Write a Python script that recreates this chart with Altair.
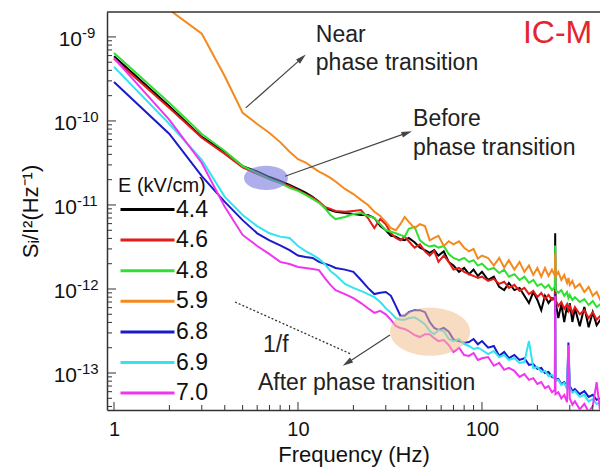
import altair as alt
import pandas as pd

# ---------------- data ----------------
freq = [1, 2, 3, 4, 5, 6, 7, 8, 9, 10, 11, 12, 13, 14, 15, 16,
        18, 20, 22, 24, 26, 28, 30, 32, 34, 36, 38, 40,
        43, 46, 49, 52, 55, 58,
        62, 66, 70, 75, 80, 85, 90, 95, 100,
        108, 116, 124, 132, 140,
        150, 160, 170, 180, 190, 200, 210, 220, 230, 240,
        249, 250, 251, 260, 270, 280, 290, 295, 300, 310, 320,
        340, 360, 380, 400, 420, 440, 460, 480]

e44 = [5.9e-10, 1.5e-10, 6.45e-11, 4.3e-11, 2.9e-11, 2.5e-11, 2.15e-11, 1.93e-11, 1.73e-11, 1.55e-11, 1.4e-11, 1.25e-11, 1.09e-11, 9.2e-12, 8.7e-12, 8.3e-12,
       8.0e-12, 7.8e-12, 7.6e-12, 7.6e-12, 7.0e-12, 5.6e-12, 5.0e-12, 4.3e-12, 4.2e-12, 3.9e-12, 3.8e-12, 4.05e-12,
       3.6e-12, 3.1e-12, 2.9e-12, 2.7e-12, 2.9e-12, 2.5e-12,
       2.8e-12, 2.1e-12, 1.9e-12, 1.6e-12, 1.78e-12, 1.5e-12, 1.7e-12, 1.43e-12, 1.6e-12,
       1.28e-12, 1.4e-12, 1.06e-12, 9.7e-13, 1.18e-12,
       9.7e-13, 1.03e-12, 8.3e-13, 6.8e-13, 9.2e-13, 7.4e-13, 5.6e-13, 8.3e-13, 6.8e-13, 7.8e-13,
       7.4e-13, 4.6e-12, 7.0e-13, 4.5e-13, 6.6e-13, 4.05e-13, 6.3e-13, 5.3e-13, 6.8e-13, 4.05e-13, 5.9e-13,
       3.6e-13, 6.1e-13, 3.5e-13, 5.3e-13, 3.7e-13, 4.3e-13, 3.25e-13, 4.05e-13]

e46 = [5.5e-10, 1.43e-10, 6.3e-11, 4.05e-11, 2.8e-11, 2.34e-11, 2.04e-11, 1.83e-11, 1.68e-11, 1.5e-11, 1.35e-11, 1.22e-11, 1.09e-11, 9.5e-12, 9.0e-12, 8.5e-12,
       8.3e-12, 8.5e-12, 8.7e-12, 7.0e-12, 5.3e-12, 6.8e-12, 5.9e-12, 4.6e-12, 4.05e-12, 3.8e-12, 4.2e-12, 3.7e-12,
       3.1e-12, 3.4e-12, 2.8e-12, 2.5e-12, 2.83e-12, 2.1e-12,
       2.5e-12, 2.1e-12, 1.7e-12, 1.78e-12, 1.6e-12, 1.5e-12, 1.43e-12, 1.35e-12, 1.4e-12,
       1.25e-12, 1.32e-12, 1.15e-12, 1.22e-12, 1.03e-12,
       1.12e-12, 9.5e-13, 1.03e-12, 8.7e-13, 9.5e-13, 8.0e-13, 9.0e-13, 7.6e-13, 8.5e-13, 7.4e-13,
       8.0e-13, 9.7e-13, 7.4e-13, 6.3e-13, 7.0e-13, 5.8e-13, 6.6e-13, 5.6e-13, 6.3e-13, 5.2e-13, 6.1e-13,
       5.0e-13, 5.6e-13, 4.5e-13, 5.3e-13, 4.3e-13, 4.8e-13, 3.8e-13, 4.4e-13]

e48 = [6.45e-10, 1.64e-10, 7.0e-11, 4.4e-11, 2.9e-11, 2.4e-11, 2.04e-11, 1.83e-11, 1.6e-11, 1.47e-11, 1.32e-11, 1.18e-11, 1.06e-11, 9.2e-12, 7.6e-12, 6.8e-12,
       7.2e-12, 7.8e-12, 8.0e-12, 7.4e-12, 7.0e-12, 5.9e-12, 5.0e-12, 4.8e-12, 4.6e-12, 4.4e-12, 4.2e-12, 5.2e-12,
       5.5e-12, 3.8e-12, 3.4e-12, 3.2e-12, 3.3e-12, 3.1e-12,
       3.25e-12, 2.6e-12, 2.34e-12, 2.2e-12, 2.34e-12, 2.1e-12, 2.2e-12, 1.9e-12, 2.0e-12,
       1.7e-12, 1.78e-12, 1.55e-12, 1.7e-12, 1.4e-12,
       1.5e-12, 1.28e-12, 1.4e-12, 1.18e-12, 1.28e-12, 1.09e-12, 1.15e-12, 1.03e-12, 1.12e-12, 9.7e-13,
       1.06e-12, 3.3e-12, 9.7e-13, 9.0e-13, 9.7e-13, 8.3e-13, 9.2e-13, 7.8e-13, 8.5e-13, 7.4e-13, 8.0e-13,
       7.0e-13, 7.6e-13, 6.45e-13, 7.2e-13, 6.1e-13, 6.6e-13, 5.6e-13, 6.1e-13]

e59 = [6.3e-9, 2.1e-9, 1.09e-9, 3.4e-10, 1.25e-10, 9.2e-11, 7.2e-11, 5.6e-11, 4.3e-11, 3.5e-11, 3.2e-11, 2.8e-11, 2.5e-11, 2.3e-11, 2.1e-11, 1.9e-11,
       1.55e-11, 1.35e-11, 1.15e-11, 1.0e-11, 8.3e-12, 7.4e-12, 6.3e-12, 5.3e-12, 5.0e-12, 5.9e-12, 7.2e-12, 6.3e-12,
       5.3e-12, 5.9e-12, 5.6e-12, 3.8e-12, 4.05e-12, 4.3e-12,
       3.25e-12, 3.7e-12, 3.4e-12, 3.7e-12, 3.1e-12, 2.8e-12, 3.0e-12, 2.3e-12, 2.5e-12,
       2.34e-12, 1.9e-12, 2.34e-12, 1.8e-12, 2.2e-12,
       1.7e-12, 2.1e-12, 1.6e-12, 1.9e-12, 1.47e-12, 1.78e-12, 1.4e-12, 1.78e-12, 1.43e-12, 1.7e-12,
       1.43e-12, 2.6e-12, 1.4e-12, 1.6e-12, 1.28e-12, 1.47e-12, 1.18e-12, 1.35e-12, 1.12e-12, 1.25e-12, 1.03e-12,
       1.15e-12, 9.2e-13, 1.06e-12, 8.3e-13, 9.2e-13, 7.4e-13, 8.3e-13, 6.8e-13]

e68 = [2.9e-10, 7.0e-11, 2.2e-11, 1.09e-11, 6.6e-12, 4.6e-12, 3.8e-12, 3.3e-12, 2.9e-12, 2.5e-12, 2.4e-12, 2.34e-12, 2.1e-12, 2.0e-12, 1.9e-12, 1.78e-12,
       1.7e-12, 1.6e-12, 1.28e-12, 1.03e-12, 8.7e-13, 9.0e-13, 9.2e-13, 8.3e-13, 6.3e-13, 4.8e-13, 4.8e-13, 5.3e-13,
       5.6e-13, 5.6e-13, 5.3e-13, 4.05e-13, 3.44e-13, 3.25e-13,
       3.44e-13, 3.1e-13, 2.5e-13, 2.4e-13, 2.3e-13, 2.34e-13, 2.54e-13, 2.2e-13, 2.4e-13,
       2.0e-13, 2.1e-13, 1.6e-13, 1.78e-13, 1.5e-13,
       1.64e-13, 1.43e-13, 1.5e-13, 1.25e-13, 1.28e-13, 1.12e-13, 1.15e-13, 1.0e-13, 1.03e-13, 9.0e-14,
       8.7e-14, 8.7e-13, 8.3e-14, 8.5e-14, 7.4e-14, 7.8e-14, 6.8e-14, 2.3e-13, 7.0e-14, 6.1e-14, 6.45e-14,
       5.6e-14, 6.1e-14, 5.2e-14, 5.5e-14, 4.8e-14, 5.0e-14, 4.3e-14, 4.5e-14]

e69 = [4.4e-10, 9.2e-11, 3.44e-11, 1.25e-11, 7.6e-12, 5.6e-12, 4.6e-12, 4.2e-12, 4.05e-12, 3.25e-12, 2.83e-12, 2.54e-12, 2.28e-12, 1.98e-12, 1.64e-12, 1.47e-12,
       1.15e-12, 1.03e-12, 9.5e-13, 8.7e-13, 8.0e-13, 7.0e-13, 5.9e-13, 5.2e-13, 4.5e-13, 4.3e-13, 4.3e-13, 4.5e-13,
       4.6e-13, 4.2e-13, 3.8e-13, 3.16e-13, 2.9e-13, 3.25e-13,
       3.16e-13, 2.54e-13, 2.4e-13, 2.54e-13, 2.2e-13, 2.1e-13, 1.93e-13, 2.0e-13, 1.88e-13,
       1.68e-13, 1.83e-13, 1.55e-13, 1.64e-13, 1.43e-13,
       1.5e-13, 1.32e-13, 1.35e-13, 2.4e-13, 1.15e-13, 1.18e-13, 1.03e-13, 1.06e-13, 9.2e-14, 9.5e-14,
       8.5e-14, 3.25e-13, 8.0e-14, 8.3e-14, 7.2e-14, 7.6e-14, 6.45e-14, 2.15e-13, 6.6e-14, 5.8e-14, 6.1e-14,
       5.2e-14, 5.5e-14, 4.6e-14, 4.9e-14, 4.3e-14, 4.4e-14, 3.7e-14, 3.9e-14]

e70 = [5.6e-10, 1.03e-10, 3.16e-11, 9.5e-12, 4.4e-12, 3.25e-12, 2.6e-12, 2.1e-12, 1.98e-12, 1.83e-12, 1.78e-12, 1.73e-12, 1.68e-12, 1.35e-12, 1.12e-12, 9.7e-13,
       8.7e-13, 7.8e-13, 6.8e-13, 5.9e-13, 5.2e-13, 5.5e-13, 5.0e-13, 4.3e-13, 3.63e-13, 3.44e-13, 3.34e-13, 3.16e-13,
       2.83e-13, 2.68e-13, 2.9e-13, 2.9e-13, 2.6e-13, 2.4e-13,
       2.47e-13, 2.15e-13, 1.78e-13, 2.0e-13, 1.64e-13, 1.6e-13, 1.73e-13, 1.43e-13, 1.5e-13,
       1.55e-13, 1.22e-13, 1.32e-13, 1.09e-13, 1.15e-13,
       1.06e-13, 9.0e-14, 9.7e-14, 8.3e-14, 8.7e-14, 7.4e-14, 7.8e-14, 6.6e-14, 7.0e-14, 5.9e-14,
       6.3e-14, 8.3e-13, 5.6e-14, 5.9e-14, 5.0e-14, 5.5e-14, 4.5e-14, 2.15e-13, 5.0e-14, 4.2e-14, 4.6e-14,
       3.7e-14, 4.3e-14, 3.44e-14, 4.05e-14, 7.8e-14, 3.34e-14, 3.63e-14, 3.08e-14]

series_labels = ["4.4", "4.6", "4.8", "5.9", "6.8", "6.9", "7.0"]
series_values = [e44, e46, e48, e59, e68, e69, e70]
series_colors = ["#000000", "#e41b1b", "#30e030", "#f48a1f", "#1a1ac8", "#30e4f0", "#f034f0"]

y_tick_values = [1e-13, 1e-12, 1e-11, 1e-10, 1e-9]
y_tick_exponents = ["-13", "-12", "-11", "-10", "-9"]
x_tick_values = [1, 10, 100]

# annotations (data coordinates)
ann_text = ["Near", "phase transition", "Before", "phase transition", "1/f", "After phase transition"]
ann_f = [12.5, 12.5, 42.2, 42.2, 6.45, 6.06]
ann_s = [1.06e-9, 4.9e-10, 1.06e-10, 4.77e-11, 2.15e-13, 7.6e-14]
legend_title_f = [1.051]
legend_title_s = [1.68e-11]

arrow_id = ["a1", "a1", "a2", "a2", "a3", "a3"]
arrow_f = [5.2, 10.5, 8.5, 39.1, 31.6, 18.5]
arrow_s = [1.43e-10, 5.6e-10, 2.2e-11, 7.2e-11, 2.83e-13, 1.32e-13]
head_f = [10.5, 39.1, 18.5]
head_s = [5.6e-10, 7.2e-11, 1.32e-13]
head_angle = [47.5, 70.6, 237]

guide_f = [4.55, 19.2]
guide_s = [7.0e-13, 1.7e-13]

# ---------------- build ----------------
rows = []
for lab, vals in zip(series_labels, series_values):
    for f, v in zip(freq, vals):
        rows.append({"f": f, "S": v, "E": lab})
df = pd.DataFrame(rows)

W, H = 493, 398
FONT = "Liberation Sans"
FRAME = "#333333"
xscale = alt.Scale(type="log", domain=[0.916, 438], nice=False)
yscale = alt.Scale(type="log", domain=[3.63e-14, 1.98e-9], nice=False)

x_axis = alt.Axis(values=x_tick_values, format="d", labelFontSize=20, labelFont=FONT,
                  labelColor="#111", ticks=False, domain=True, domainColor=FRAME,
                  domainWidth=1.5, grid=False, labelPadding=9, labelFlush=False,
                  title="Frequency (Hz)", titleFontSize=22, titleFont=FONT,
                  titleFontWeight="normal", titleColor="#111", titlePadding=5)
y_axis = alt.Axis(values=y_tick_values, labels=False, ticks=False,
                  domain=True, domainColor=FRAME, domainWidth=1.5, grid=False,
                  title="S\u1d62/I\u00b2(Hz\u207b\u00b9)",
                  titleFontSize=22, titleFont=FONT, titleFontWeight="normal",
                  titleColor="#111", titlePadding=65)

def X(field):
    return alt.X(field, scale=xscale, axis=x_axis)

def Y(field):
    return alt.Y(field, scale=yscale, axis=y_axis)

lines = alt.Chart(df).mark_line(strokeWidth=2, clip=True).encode(
    x=X("f:Q"), y=Y("S:Q"),
    color=alt.Color("E:N", scale=alt.Scale(domain=series_labels, range=series_colors),
                    legend=alt.Legend(title=None, orient="none", legendX=29, legendY=186,
                                      symbolType="M-3,0H3", symbolSize=324, symbolStrokeWidth=3,
                                      labelFontSize=23, labelFont=FONT, labelColor="#111",
                                      labelOffset=17, rowPadding=6.6, padding=0)),
)

# y-axis labels: "10" with a raised exponent
ylab = pd.DataFrame({"S": y_tick_values, "base": ["10"] * len(y_tick_values),
                     "exp": y_tick_exponents})

def ylab_layer(field, is_nine, xpos, size, dy, align):
    flt = "datum.exp == '-9'" if is_nine else "datum.exp != '-9'"
    return alt.Chart(ylab).transform_filter(flt).mark_text(
        align=align, baseline="middle", fontSize=size, font=FONT, color="#111", dy=dy).encode(
        y=Y("S:Q"), x=alt.value(xpos), text=f"{field}:N")

ylabels = [
    ylab_layer("base", False, -30, 21, 3, "right"),
    ylab_layer("exp", False, -30, 15, -4, "left"),
    ylab_layer("base", True, -25, 21, 3, "right"),
    ylab_layer("exp", True, -25, 15, -4, "left"),
]

y_minor = [m * 10.0 ** e for e in range(-14, -8) for m in range(2, 10)
           if 3.63e-14 <= m * 10.0 ** e <= 1.98e-9]
x_minor = [m * 10 ** e for e in range(0, 3) for m in range(2, 10) if m * 10 ** e <= 438]

def ytick(vals, length):
    return alt.Chart(pd.DataFrame({"S": vals})).mark_rule(color=FRAME, strokeWidth=1).encode(
        y=Y("S:Q"), x=alt.value(0), x2=alt.value(length))

def xtick(vals, length):
    return alt.Chart(pd.DataFrame({"f": vals})).mark_rule(color=FRAME, strokeWidth=1).encode(
        x=X("f:Q"), y=alt.value(H), y2=alt.value(H - length))

top_frame = alt.Chart(alt.Data(values=[{}])).mark_rule(color=FRAME, strokeWidth=1.5).encode(
    x=alt.value(0), x2=alt.value(W), y=alt.value(0))

ann = alt.Chart(pd.DataFrame({"f": ann_f, "S": ann_s, "txt": ann_text})).mark_text(
    align="left", baseline="middle", fontSize=23, font=FONT, color="#222").encode(
    x=X("f:Q"), y=Y("S:Q"), text="txt:N")

leg_title = alt.Chart(pd.DataFrame({"f": legend_title_f, "S": legend_title_s, "txt": ["E (kV/cm)"]})).mark_text(
    align="left", baseline="middle", fontSize=20, font=FONT, color="#111").encode(
    x=X("f:Q"), y=Y("S:Q"), text="txt:N")

icm = alt.Chart(pd.DataFrame({"f": [167], "S": [1.12e-9], "txt": ["IC-M"]})).mark_text(
    align="left", baseline="middle", fontSize=32, font=FONT, color="#e3262d").encode(
    x=X("f:Q"), y=Y("S:Q"), text="txt:N")

arrows = alt.Chart(pd.DataFrame({"id": arrow_id, "f": arrow_f, "S": arrow_s})).mark_line(
    color="#444", strokeWidth=1.2).encode(x=X("f:Q"), y=Y("S:Q"), detail="id:N")

heads = alt.Chart(pd.DataFrame({"f": head_f, "S": head_s, "ang": head_angle})).mark_point(
    shape="M0,-1L0.55,1L-0.55,1Z", filled=True, size=110, color="#444", opacity=1).encode(
    x=X("f:Q"), y=Y("S:Q"), angle=alt.Angle("ang:Q", scale=None))

guide = alt.Chart(pd.DataFrame({"f": guide_f, "S": guide_s})).mark_line(
    color="#333", strokeWidth=1.3, strokeDash=[2, 2]).encode(x=X("f:Q"), y=Y("S:Q"))

blue_ell = alt.Chart(pd.DataFrame({"f": [6.7], "S": [2.1e-11]})).mark_point(
    shape="M-1,0A1,0.55,0,1,0,1,0A1,0.55,0,1,0,-1,0", filled=True, size=1936,
    color="#7878e0", opacity=0.6).encode(x=X("f:Q"), y=Y("S:Q"))

orange_ell = alt.Chart(pd.DataFrame({"f": [52.2], "S": [3.1e-13]})).mark_point(
    shape="M-1,0A1,0.6,0,1,0,1,0A1,0.6,0,1,0,-1,0", filled=True, size=6400,
    color="#f0c090", opacity=0.55).encode(x=X("f:Q"), y=Y("S:Q"))

chart = alt.layer(
    lines, blue_ell, orange_ell, guide, arrows, heads, ann, leg_title, icm, *ylabels,
    ytick(y_tick_values, 9), ytick(y_minor, 5), xtick(x_tick_values, 8), xtick(x_minor, 5), top_frame
).properties(
    width=W, height=H,
    padding={"left": 107, "top": 12, "right": 0, "bottom": 61},
    autosize=alt.AutoSizeParams(type="none"),
    background="white",
).configure_view(stroke=None)

chart.save("out.html", embed_options={"renderer": "svg", "actions": False})
